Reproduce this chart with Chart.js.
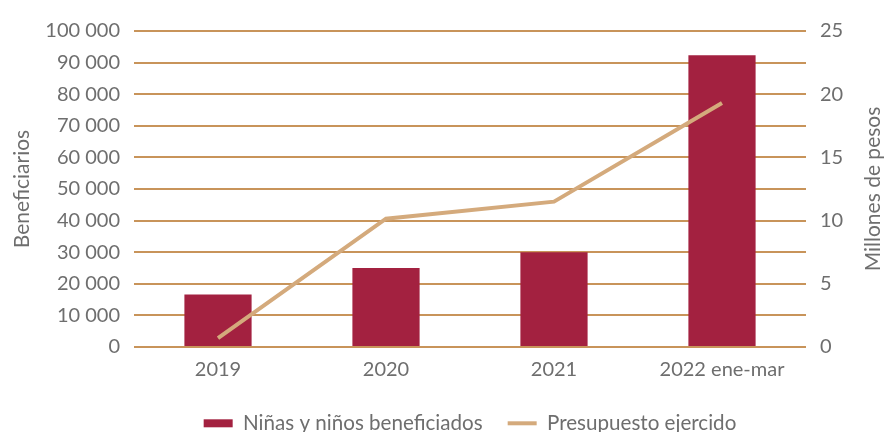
<!DOCTYPE html>
<html><head><meta charset="utf-8">
<script src="https://cdn.jsdelivr.net/npm/chart.js@4/dist/chart.umd.min.js"></script>
<style>html,body{margin:0;padding:0;background:#fff;}canvas{display:block;}</style>
</head><body>
<canvas id="c" width="887" height="432"></canvas>
<script>
const categories = ['2019', '2020', '2021', '2022 ene-mar'];
const beneficiarios = [16600, 25000, 30000, 92300];
const presupuesto = [0.7, 10.15, 11.5, 19.3];
const leftTicks = [0, 10000, 20000, 30000, 40000, 50000, 60000, 70000, 80000, 90000, 100000];
const rightTicks = [0, 5, 10, 15, 20, 25];
const seriesNames = ['Niñas y niños beneficiados', 'Presupuesto ejercido'];
const axisTitles = ['Beneficiarios', 'Millones de pesos'];

const TXT = '#6e6e6e';
const BAR = '#a32140';
const LINE = '#d4aa7c';
const GRID = '#c8945a';
const FONT = 'Lato';

const titlePlugin = {
  id: 'axisTitles',
  afterDraw(chart) {
    const ctx = chart.ctx, a = chart.chartArea;
    const cy = (a.top + a.bottom) / 2;
    ctx.save();
    ctx.fillStyle = TXT;
    ctx.font = '21px ' + FONT;
    ctx.textAlign = 'center';
    ctx.textBaseline = 'middle';
    [[22, axisTitles[0]], [873, axisTitles[1]]].forEach(([x, t]) => {
      ctx.save();
      ctx.translate(x, cy);
      ctx.rotate(-Math.PI / 2);
      ctx.fillText(t, 0, 0);
      ctx.restore();
    });
    ctx.restore();
  }
};

new Chart(document.getElementById('c'), {
  data: {
    labels: categories,
    datasets: [
      { type: 'line', label: seriesNames[1], data: presupuesto, yAxisID: 'y2',
        borderColor: LINE, backgroundColor: LINE, borderWidth: 4, pointRadius: 0, tension: 0, order: 0 },
      { type: 'bar', label: seriesNames[0], data: beneficiarios, yAxisID: 'y',
        backgroundColor: BAR, categoryPercentage: 0.4, barPercentage: 1, order: 1 }
    ]
  },
  plugins: [titlePlugin],
  options: {
    responsive: false, animation: false,
    layout: { padding: { top: 31, bottom: 0 } },
    plugins: {
      tooltip: { enabled: false },
      legend: {
        position: 'bottom', fullSize: false, maxHeight: 44,
        labels: {
          color: TXT, font: { family: FONT, size: 20.6 }, usePointStyle: true,
          pointStyleWidth: 29, boxHeight: 8, padding: 25,
          generateLabels: (chart) => [
            { text: seriesNames[0], fillStyle: BAR, strokeStyle: BAR, lineWidth: 0, pointStyle: 'rect', datasetIndex: 1, fontColor: TXT },
            { text: seriesNames[1], fillStyle: LINE, strokeStyle: LINE, lineWidth: 4, pointStyle: 'line', datasetIndex: 0, fontColor: TXT }
          ]
        }
      }
    },
    scales: {
      x: {
        afterFit: (s) => { s.height = 41; },
        grid: { display: false, drawTicks: false },
        border: { display: false },
        ticks: { color: TXT, font: { family: FONT, size: 20 }, padding: 11 }
      },
      y: {
        position: 'left', min: 0, max: 100000,
        afterBuildTicks: (s) => { s.ticks = leftTicks.map(v => ({ value: v })); },
        afterFit: (s) => { s.width = 134; },
        grid: { color: GRID, lineWidth: 2, drawTicks: false },
        border: { display: false },
        ticks: { color: TXT, font: { family: FONT, size: 20 }, padding: 14,
          callback: (v) => v.toLocaleString('en-US').replace(/,/g, ' ') }
      },
      y2: {
        position: 'right', min: 0, max: 25,
        afterBuildTicks: (s) => { s.ticks = rightTicks.map(v => ({ value: v })); },
        afterFit: (s) => { s.width = 81; },
        grid: { display: false, drawTicks: false },
        border: { display: false },
        ticks: { color: TXT, font: { family: FONT, size: 20 }, padding: 14 }
      }
    }
  }
});
</script>
</body></html>
